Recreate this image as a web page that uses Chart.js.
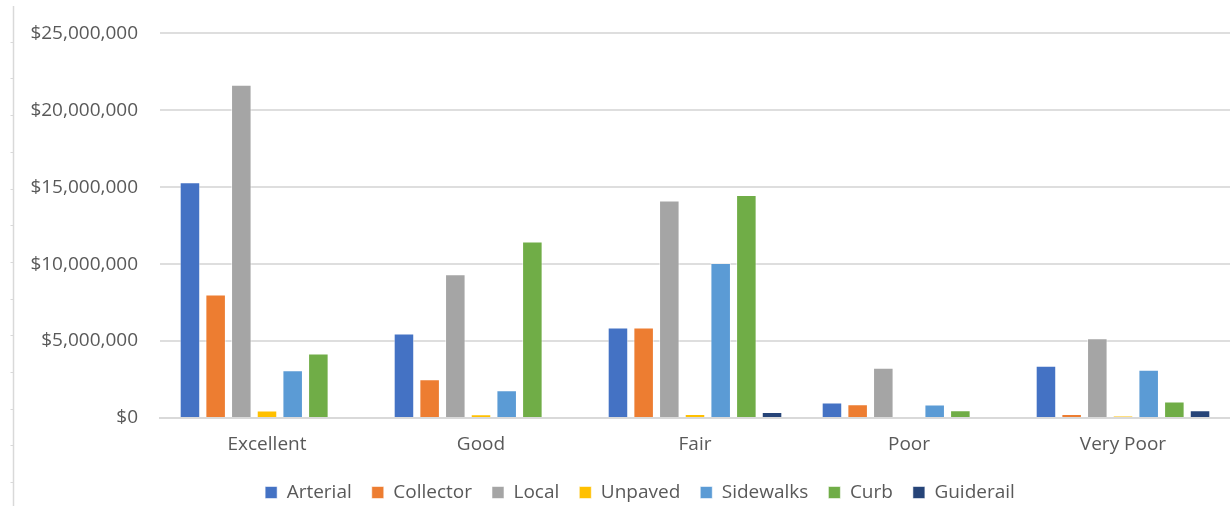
<!DOCTYPE html>
<html>
<head>
<meta charset="utf-8">
<script src="https://cdn.jsdelivr.net/npm/chart.js@4/dist/chart.umd.min.js"></script>
<style>
  html, body { margin: 0; padding: 0; background: #fff; overflow: hidden; width: 1230px; height: 506px; }
  #wrap { position: absolute; left: 0; top: 0; width: 1284px; height: 512px; }
</style>
</head>
<body>
<div id="wrap"><canvas id="chart"></canvas></div>
<script>
// Asset replacement value by condition rating
const categories = ['Excellent', 'Good', 'Fair', 'Poor', 'Very Poor'];
const yTicks = [0, 5000000, 10000000, 15000000, 20000000, 25000000];

const arterial   = [15320000, 5490000, 5880000, 1000000, 3390000];
const collector  = [8030000, 2520000, 5880000, 890000, 260000];
const local      = [21660000, 9350000, 14130000, 3260000, 5190000];
const unpaved    = [480000, 240000, 260000, 0, 130000];
const sidewalks  = [3100000, 1800000, 10070000, 870000, 3130000];
const curb       = [4190000, 11480000, 14500000, 500000, 1080000];
const guiderail  = [0, 0, 390000, 0, 500000];

const seriesNames  = ['Arterial', 'Collector', 'Local', 'Unpaved', 'Sidewalks', 'Curb', 'Guiderail'];
const seriesValues = [arterial, collector, local, unpaved, sidewalks, curb, guiderail];
const seriesColors = ['#4472C4', '#ED7D31', '#A5A5A5', '#FFC000', '#5B9BD5', '#70AD47', '#264478'];

const textColor = '#595959';
const fontFamily = '"Open Sans", "Noto Sans", sans-serif';

// Thin sheet-edge rule with small tick marks along the left margin
const marginRule = {
  id: 'marginRule',
  beforeDraw(chart) {
    const ctx = chart.ctx;
    ctx.save();
    ctx.strokeStyle = '#d9d9d9';
    ctx.lineWidth = 1.5;
    ctx.beginPath();
    ctx.moveTo(13.5, 6);
    ctx.lineTo(13.5, chart.height);
    ctx.stroke();
    ctx.lineWidth = 1;
    ctx.beginPath();
    for (let y = 41.7; y < chart.height; y += 36.7) {
      ctx.moveTo(10.5, Math.round(y) + 0.5);
      ctx.lineTo(13, Math.round(y) + 0.5);
    }
    ctx.stroke();
    ctx.restore();
  }
};

// Center the legend under the plot area rather than the whole canvas
const legendCenter = {
  id: 'legendCenter',
  afterLayout(chart) {
    const lg = chart.legend;
    if (!lg) return;
    const shift = (chart.chartArea.left + chart.chartArea.right) / 2 - (lg.left + lg.right) / 2 - 55;
    lg.left += shift;
    lg.right += shift;
  }
};

new Chart(document.getElementById('chart'), {
  type: 'bar',
  data: {
    labels: categories,
    datasets: seriesNames.map((name, i) => ({
      label: name,
      data: seriesValues[i],
      backgroundColor: seriesColors[i],
      borderColor: 'rgba(255,255,255,0.55)',
      borderWidth: 1,
      barPercentage: 0.8,
      categoryPercentage: 0.84
    }))
  },
  options: {
    responsive: true,
    maintainAspectRatio: false,
    animation: false,
    layout: { padding: { left: 0, right: 54, top: 32, bottom: 0 } },
    plugins: {
      tooltip: { enabled: false },
      legend: {
        position: 'bottom',
        labels: {
          color: textColor,
          font: { family: fontFamily, size: 19 },
          boxWidth: 12,
          boxHeight: 12,
          padding: 20
        }
      }
    },
    scales: {
      x: {
        afterFit(scale) { scale.height = 45; },
        grid: { display: false, drawTicks: false },
        border: { display: true, color: '#d9d9d9', width: 2 },
        ticks: {
          color: textColor,
          font: { family: fontFamily, size: 19 },
          padding: 15
        }
      },
      y: {
        min: 0,
        max: 25000000,
        afterFit(scale) { scale.width = 160; },
        afterBuildTicks(scale) { scale.ticks = yTicks.map(v => ({ value: v })); },
        grid: { color: '#dedede', lineWidth: 2, drawTicks: false },
        border: { display: false },
        ticks: {
          color: textColor,
          font: { family: fontFamily, size: 19 },
          padding: 22,
          callback: v => '$' + Number(v).toLocaleString('en-US')
        }
      }
    }
  },
  plugins: [marginRule, legendCenter]
});
</script>
</body>
</html>
